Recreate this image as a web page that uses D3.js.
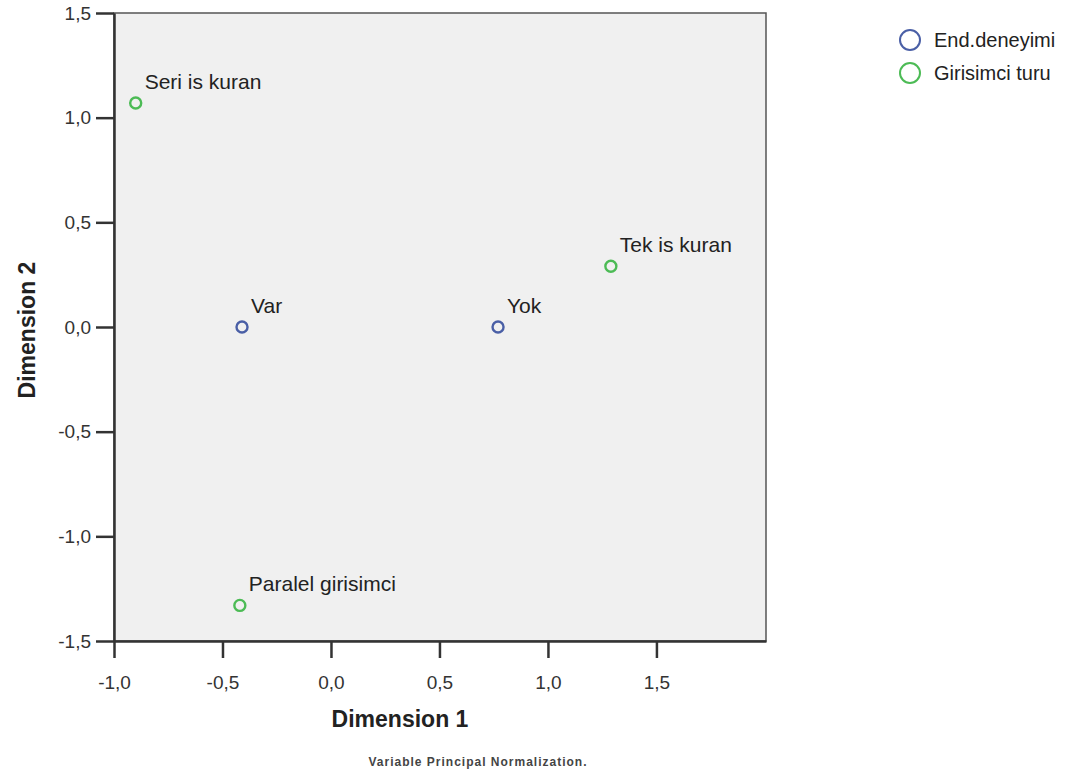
<!DOCTYPE html>
<html>
  <head>
    <meta charset="utf-8">
    <title>Joint plot</title>
    <script src="https://d3js.org/d3.v7.min.js"></script>
    <style>
      body { margin: 0; background: #fff; }
      text { font-family: "Liberation Sans", Arial, sans-serif; fill: #222; }
    </style>
  </head>
  <body>
    <script>
      // category points
      var labels = ["Seri is kuran", "Var", "Yok", "Tek is kuran", "Paralel girisimci"];
      var dim1   = [-0.90, -0.41, 0.77, 1.29, -0.42];
      var dim2   = [1.07, 0.00, 0.00, 0.29, -1.33];
      var groups = ["Girisimci turu", "End.deneyimi", "End.deneyimi", "Girisimci turu", "Girisimci turu"];

      var legendNames = ["End.deneyimi", "Girisimci turu"];
      var xTicks = [-1.0, -0.5, 0.0, 0.5, 1.0, 1.5];
      var yTicks = [-1.5, -1.0, -0.5, 0.0, 0.5, 1.0, 1.5];

      var color = d3.scaleOrdinal().domain(legendNames).range(["#4a5fa6", "#4cbb55"]);
      var fmt = function (d) {
        return d3.format(".1f")(d).replace(".", ",").replace("\u2212", "-");
      };

      var svg = d3.select("body").append("svg")
        .attr("width", 1069)
        .attr("height", 776);

      var mLeft = 114, mRight = 766, mTop = 13, mBottom = 641;

      var xScale = d3.scaleLinear().domain([-1, 2.005]).range([mLeft, mRight]);
      var yScale = d3.scaleLinear().domain([-1.5, 1.5]).range([mBottom, mTop]);

      svg.append("rect")
        .attr("x", mLeft).attr("y", mTop)
        .attr("width", mRight - mLeft).attr("height", mBottom - mTop)
        .attr("fill", "#f0f0f0")
        .attr("stroke", "#555").attr("stroke-width", 1.5);

      var xAxis = svg.append("g")
        .attr("transform", "translate(0," + mBottom + ")")
        .call(d3.axisBottom(xScale).tickValues(xTicks).tickFormat(fmt).tickSize(17).tickSizeOuter(0).tickPadding(18));

      var yAxis = svg.append("g")
        .attr("transform", "translate(" + mLeft + ",0)")
        .call(d3.axisLeft(yScale).tickValues(yTicks).tickFormat(fmt).tickSize(18).tickSizeOuter(0).tickPadding(5));

      [xAxis, yAxis].forEach(function (g) {
        g.select(".domain").attr("stroke", "#333").attr("stroke-width", 2.5);
        g.selectAll(".tick line").attr("stroke", "#333").attr("stroke-width", 2.5);
        g.selectAll(".tick text")
          .attr("font-family", "Liberation Sans, Arial, sans-serif")
          .attr("font-size", 19).style("fill", "#333");
      });

      var pts = labels.map(function (d, i) {
        return { label: d, x: dim1[i], y: dim2[i], group: groups[i] };
      });

      svg.selectAll("circle.pt")
        .data(pts)
        .enter().append("circle")
          .attr("class", "pt")
          .attr("cx", function (d) { return xScale(d.x); })
          .attr("cy", function (d) { return yScale(d.y); })
          .attr("r", 5.5)
          .attr("fill", "none")
          .attr("stroke", function (d) { return color(d.group); })
          .attr("stroke-width", 2.4);

      svg.selectAll("text.pt")
        .data(pts)
        .enter().append("text")
          .attr("class", "pt")
          .attr("x", function (d) { return xScale(d.x) + 9; })
          .attr("y", function (d) { return yScale(d.y) - 14; })
          .attr("font-size", 21)
          .text(function (d) { return d.label; });

      // axis titles
      svg.append("text")
        .attr("x", 400).attr("y", 727)
        .attr("text-anchor", "middle")
        .attr("font-size", 23).attr("font-weight", "bold")
        .text("Dimension 1");

      svg.append("text")
        .attr("transform", "translate(35,330) rotate(-90)")
        .attr("text-anchor", "middle")
        .attr("font-size", 23).attr("font-weight", "bold")
        .text("Dimension 2");

      svg.append("text")
        .attr("x", 478).attr("y", 766)
        .attr("text-anchor", "middle")
        .attr("font-size", 12).attr("font-weight", "bold")
        .attr("letter-spacing", 1)
        .style("fill", "#444")
        .text("Variable Principal Normalization.");

      // legend
      var legend = svg.selectAll("g.legend")
        .data(legendNames)
        .enter().append("g")
          .attr("class", "legend")
          .attr("transform", function (d, i) { return "translate(910," + (40 + i * 33) + ")"; });

      legend.append("circle")
        .attr("r", 10)
        .attr("fill", "none")
        .attr("stroke", function (d) { return color(d); })
        .attr("stroke-width", 2);

      legend.append("text")
        .attr("x", 24).attr("y", 7)
        .attr("font-size", 20)
        .text(function (d) { return d; });
    </script>
  </body>
</html>
